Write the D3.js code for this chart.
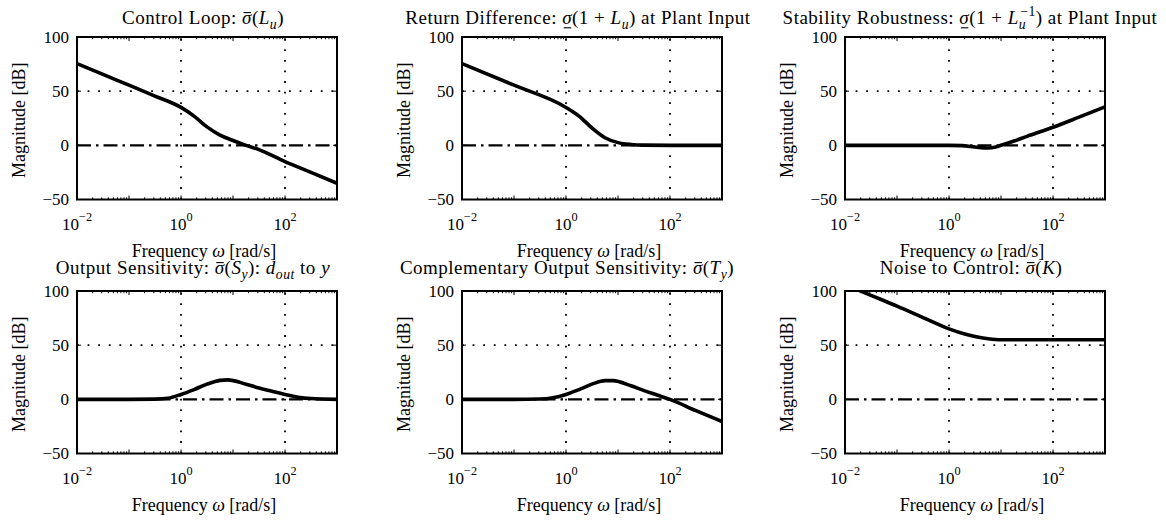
<!DOCTYPE html>
<html><head><meta charset="utf-8">
<script src="https://cdn.jsdelivr.net/npm/d3@7"></script>
<style>
body{margin:0;background:#fff}
svg{display:block;background:#fff}
text{font-family:"Liberation Serif","Times New Roman",serif;fill:#000}
</style>
</head><body>
<svg id="chart" width="1166" height="521"></svg>
<script>
// ---------- data (frequency in rad/s, magnitude in dB) ----------
const freqLu   = [0.01, 0.0316, 0.1, 0.316, 1, 1.78, 3.16, 5.62, 10, 17.8, 31.6, 100, 316, 1000];
const magLu    = [75.5, 65.5, 55.5, 45.5, 35, 27, 17, 9.5, 4.5, 0, -4, -15, -25, -35];

const freqRD   = [0.01, 0.1, 1, 1.78, 3.16, 5.62, 10, 17.8, 31.6, 100, 1000];
const magRD    = [75.5, 55.5, 35, 27, 16, 7, 2.5, 0.8, 0.2, 0, 0];

const freqSR   = [0.01, 0.1, 1, 1.78, 3.16, 5.62, 7.94, 10, 17.8, 31.6, 100, 316, 1000];
const magSR    = [0, 0, 0, -0.3, -1.5, -2.5, -1.5, 0, 4, 8.3, 16.7, 26, 35.5];

const freqSy   = [0.01, 0.1, 0.316, 0.562, 1, 1.78, 3.16, 5.62, 7.94, 17.8, 31.6, 56.2, 100, 178, 316, 1000];
const magSy    = [0, 0, 0.2, 1, 4.5, 9, 14, 17.5, 18, 14, 10.5, 7.5, 4.5, 2, 0.7, 0];

const freqTy   = [0.01, 0.1, 0.316, 0.562, 1, 1.78, 3.16, 5.62, 7.94, 17.8, 31.6, 56.2, 100, 316, 1000];
const magTy    = [0, 0, 0.3, 1.5, 4.5, 9, 14, 17.3, 17.3, 12.5, 8, 4, 0, -10.5, -20.5];

const freqK    = [0.01, 0.0316, 0.1, 0.316, 1, 1.78, 3.16, 5.62, 10, 100, 1000];
const magK     = [106, 96, 86, 75.5, 65, 61, 58, 56, 55, 55, 55];

const yTickValues = [100, 50, 0, -50];
const xTickExponents = [-2, 0, 2];
const xDomain = [0.01, 1000];
const yDomain = [-50, 100];

const titleSpecs = [
  [{t:"Control Loop: "},{t:"σ",it:1,over:1},{t:"("},{t:"L",it:1},{t:"u",it:1,sub:1},{t:")"}],
  [{t:"Return Difference: "},{t:"σ",it:1,under:1},{t:"(1 + "},{t:"L",it:1},{t:"u",it:1,sub:1},{t:") at Plant Input"}],
  [{t:"Stability Robustness: "},{t:"σ",it:1,under:1},{t:"(1 + "},{t:"L",it:1},{t:"u",it:1,sub:1},{t:"−1",sup:1,dx:-6},{t:") at Plant Input"}],
  [{t:"Output Sensitivity: "},{t:"σ",it:1,over:1},{t:"("},{t:"S",it:1},{t:"y",it:1,sub:1},{t:"): "},{t:"d",it:1},{t:"out",it:1,sub:1},{t:" to "},{t:"y",it:1}],
  [{t:"Complementary Output Sensitivity: "},{t:"σ",it:1,over:1},{t:"("},{t:"T",it:1},{t:"y",it:1,sub:1},{t:")"}],
  [{t:"Noise to Control: "},{t:"σ",it:1,over:1},{t:"("},{t:"K",it:1},{t:")"}]
];

const series = [
  [freqLu, magLu], [freqRD, magRD], [freqSR, magSR],
  [freqSy, magSy], [freqTy, magTy], [freqK, magK]
];

// ---------- layout ----------
const colX = [77, 462, 845];
const rowY = [37, 291];
const W = 260, H = 162.5;
const titleCenters = [203, 578, 970, 193, 567, 971];
const titleBase = [24, 274];
const FS = 17;      // tick labels
const LFS = 18;     // axis labels
const TFS = 19;     // titles

const svg = d3.select("#chart");

function richText(g, cx, y, spec, fs) {
  const txt = g.append("text").attr("x", 0).attr("y", y)
    .attr("text-anchor", "start").style("font-size", fs + "px")
    .style("letter-spacing", "0.5px");
  const spans = [];
  let cur = 0;
  spec.forEach(s => {
    let target = 0, size = fs;
    if (s.sub) { target = fs * 0.28; size = fs * 0.72; }
    if (s.sup) { target = -fs * 0.42; size = fs * 0.72; }
    const ts = txt.append("tspan").style("font-size", size + "px").text(s.t);
    if (target !== cur) { ts.attr("dy", target - cur); cur = target; }
    if (s.it) ts.style("font-style", "italic");
    if (s.dx) ts.attr("dx", s.dx);
    spans.push([ts, s]);
  });
  const bb = txt.node().getBBox();
  const shift = cx - (bb.x + bb.width / 2);
  txt.attr("x", shift);
  spans.forEach(([ts, s]) => {
    if (s.over || s.under) {
      const b = ts.node().getBBox();
      const ly = s.over ? y - fs * 0.6 : y + fs * 0.2;
      g.append("line").attr("x1", b.x + 1.5).attr("x2", b.x + b.width - 1)
        .attr("y1", ly).attr("y2", ly).attr("stroke", "#000").attr("stroke-width", 1.1);
    }
  });
  return txt;
}

series.forEach(([freq, mag], i) => {
  const col = i % 3, row = Math.floor(i / 3);
  const x0 = colX[col], y0 = rowY[row];
  const x = d3.scaleLog().domain(xDomain).range([x0, x0 + W]);
  const y = d3.scaleLinear().domain(yDomain).range([y0 + H, y0]);
  const g = svg.append("g");

  const clipId = "clip" + i;
  svg.append("clipPath").attr("id", clipId).append("rect")
    .attr("x", x0).attr("y", y0).attr("width", W).attr("height", H);

  // grid (dotted)
  xTickExponents.forEach(e => {
    const v = Math.pow(10, e);
    if (v > xDomain[0]) {
      g.append("line").attr("x1", x(v)).attr("x2", x(v)).attr("y1", y0 + H).attr("y2", y0)
        .attr("stroke", "#000").attr("stroke-width", 1.8).attr("stroke-dasharray", "1.8,8.8");
    }
  });
  yTickValues.forEach(v => {
    if (v !== 0 && v > yDomain[0] && v < yDomain[1]) {
      g.append("line").attr("x1", x0).attr("x2", x0 + W).attr("y1", y(v)).attr("y2", y(v))
        .attr("stroke", "#000").attr("stroke-width", 1.8).attr("stroke-dasharray", "1.8,8.8");
    }
  });

  // 0 dB dash-dot reference
  g.append("line").attr("x1", x0).attr("x2", x0 + W).attr("y1", y(0)).attr("y2", y(0))
    .attr("stroke", "#000").attr("stroke-width", 2.2).attr("stroke-dasharray", "14,5,2.5,5");

  // minor/major ticks inside
  const ticks = g.append("g").attr("stroke", "#000").attr("stroke-width", 1);
  for (let e = -2; e < 3; e++) {
    for (let m = 1; m < 10; m++) {
      const v = m * Math.pow(10, e);
      if (v <= xDomain[0] || v >= xDomain[1]) continue;
      const L = m === 1 ? 4 : 2.2;
      ticks.append("line").attr("x1", x(v)).attr("x2", x(v)).attr("y1", y0 + H).attr("y2", y0 + H - L);
      ticks.append("line").attr("x1", x(v)).attr("x2", x(v)).attr("y1", y0).attr("y2", y0 + L);
    }
  }
  yTickValues.forEach(v => {
    ticks.append("line").attr("x1", x0).attr("x2", x0 + 4).attr("y1", y(v)).attr("y2", y(v));
    ticks.append("line").attr("x1", x0 + W).attr("x2", x0 + W - 4).attr("y1", y(v)).attr("y2", y(v));
  });

  // curve
  const line = d3.line().x((d, k) => x(freq[k])).y(d => y(d)).curve(d3.curveMonotoneX);
  g.append("path").datum(mag).attr("d", line).attr("fill", "none")
    .attr("stroke", "#000").attr("stroke-width", 3.6).attr("stroke-linejoin", "round")
    .attr("clip-path", "url(#" + clipId + ")");

  // frame
  g.append("rect").attr("x", x0).attr("y", y0).attr("width", W).attr("height", H)
    .attr("fill", "none").attr("stroke", "#000").attr("stroke-width", 2);

  // y tick labels
  yTickValues.forEach(v => {
    g.append("text").attr("x", x0 - 8).attr("y", y(v) + FS * 0.35)
      .attr("text-anchor", "end").style("font-size", FS + "px")
      .text(v < 0 ? "−" + Math.abs(v) : String(v));
  });

  // x tick labels 10^e
  xTickExponents.forEach(e => {
    const t = g.append("text").attr("x", x(Math.pow(10, e))).attr("y", y0 + H + 30)
      .attr("text-anchor", "middle").style("font-size", FS + "px");
    t.append("tspan").text("10");
    t.append("tspan").attr("dy", -9).style("font-size", (FS * 0.72) + "px")
      .text(e < 0 ? "−" + Math.abs(e) : String(e));
  });

  // axis labels
  const xl = g.append("text").attr("x", x0 + W / 2 - 3).attr("y", y0 + H + 57)
    .attr("text-anchor", "middle").style("font-size", LFS + "px");
  xl.append("tspan").text("Frequency ");
  xl.append("tspan").style("font-style", "italic").text("ω");
  xl.append("tspan").text(" [rad/s]");

  g.append("text").attr("transform", `translate(${x0 - 52},${y0 + H / 2 + 2}) rotate(-90)`)
    .attr("text-anchor", "middle").style("font-size", LFS + "px").text("Magnitude [dB]");

  // title
  richText(g, titleCenters[i], titleBase[row], titleSpecs[i], TFS);
});
</script>
</body></html>
